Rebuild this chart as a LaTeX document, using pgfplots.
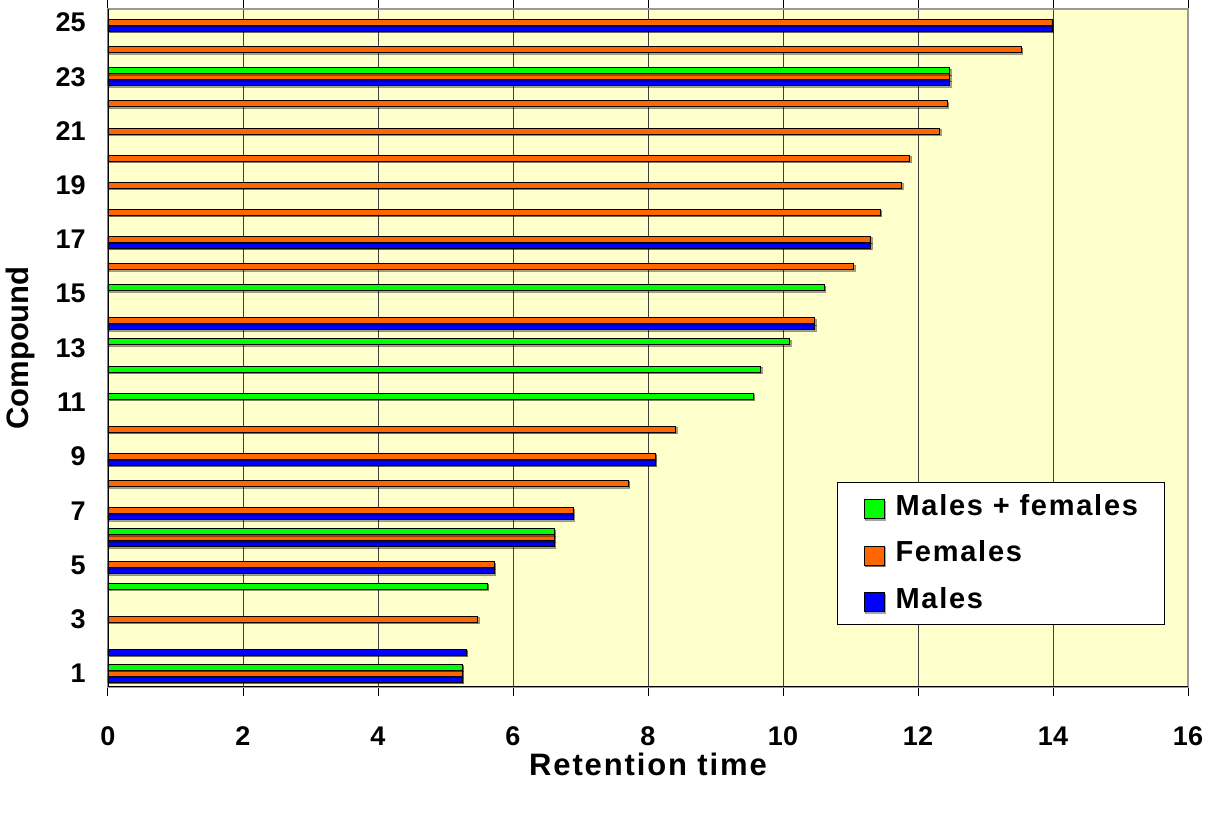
\documentclass[border=0pt]{standalone}
\usepackage{fontspec}
\setmainfont{Liberation Sans}
\usepackage{pgfplots}
\pgfplotsset{compat=1.18}
\usetikzlibrary{shadows}
\definecolor{cgreen}{HTML}{00FF00}
\definecolor{corange}{HTML}{FF6600}
\definecolor{cblue}{HTML}{0000FF}
\definecolor{bgyellow}{HTML}{FFFFCC}
\begin{document}
\begin{tikzpicture}
\begin{axis}[
  at={(54pt,63pt)}, anchor=south west,
  scale only axis, width=540pt, height=339pt,
  xbar, bar width=0.2222,
  xmin=0, xmax=16, ymin=0.5, ymax=25.5,
  xtick={0,2,...,16},
  ytick={1,3,...,25},
  ytick style={draw=none},
  extra y ticks={0.5,1.5,...,25.5},
  extra y tick labels={},
  extra y tick style={tick style={draw=black, line width=0.5pt}},
  tick align=outside,
  major tick length=4.5pt,
  xtick style={draw=black, line width=0.5pt},
  xmajorgrids,
  grid style={black!75, line width=0.5pt},
  axis background/.style={fill=bgyellow},
  axis line style={draw=black!40, line width=0.6pt},
  /pgf/number format/assume math mode=true,
  tick label style={font=\bfseries\fontsize{13.5}{13.5}\selectfont},
  xticklabel style={anchor=base, inner sep=0pt, yshift=-25pt},
  yticklabel style={anchor=east, inner sep=0pt, xshift=-6.5pt},
  xlabel={Retention time},
  ylabel={Compound},
  label style={font=\bfseries\fontsize{15.5}{16}\selectfont},
  xlabel style={at={(axis description cs:0.5,0)}, anchor=base, yshift=-44.5pt, font=\bfseries\fontsize{15.5}{16}\selectfont\addfontfeatures{LetterSpace=6}},
  ylabel style={at={(axis description cs:0,0.5)}, anchor=center, yshift=44pt},
  barstyle/.style={draw=black, line width=0.5pt, fill=#1,
    drop shadow={shadow xshift=0.7pt, shadow yshift=-0.7pt, fill=black, opacity=0.35}},
  reverse legend,
  legend image code/.code={\draw[#1, line width=0.5pt] (0pt,-6pt) rectangle (10pt,3.5pt);},
  legend cell align=left,
  legend style={at={(0.675,0.3024)}, anchor=north west, draw=black, fill=white, line width=0.5pt,
    font=\bfseries\fontsize{14.5}{17}\selectfont\addfontfeatures{LetterSpace=6},
    inner xsep=13pt, inner ysep=6pt, row sep=10.75pt,
    nodes={inner sep=0pt, text height=10.5pt, text depth=2pt},
    /tikz/every odd column/.append style={column sep=5.5pt}},
]
\addplot[barstyle=cblue, bar shift=-0.2222] coordinates {
(5.25,1) (5.31,2) (5.72,5) (6.61,6) (6.89,7) (8.11,9) (10.47,14) (11.30,17) (12.47,23) (13.99,25)};
\addlegendentry{Males}
\addplot[barstyle=corange, bar shift=0] coordinates {
(5.25,1) (5.48,3) (5.72,5) (6.61,6) (6.89,7) (7.71,8) (8.11,9) (8.41,10) (10.47,14) (11.05,16) (11.30,17) (11.44,18) (11.76,19) (11.88,20) (12.32,21) (12.43,22) (12.47,23) (13.53,24) (13.99,25)};
\addlegendentry{Females}
\addplot[barstyle=cgreen, bar shift=0.2222] coordinates {
(5.25,1) (5.62,4) (6.61,6) (9.56,11) (9.67,12) (10.10,13) (10.61,15) (12.47,23)};
\addlegendentry{Males + females}
\draw[black, line width=0.6pt] (rel axis cs:0,1) -- (rel axis cs:0,0) -- (rel axis cs:1,0);
\end{axis}
\pgfresetboundingbox
\path (0pt,0pt) rectangle (608pt,406.5pt);
\end{tikzpicture}
\end{document}
